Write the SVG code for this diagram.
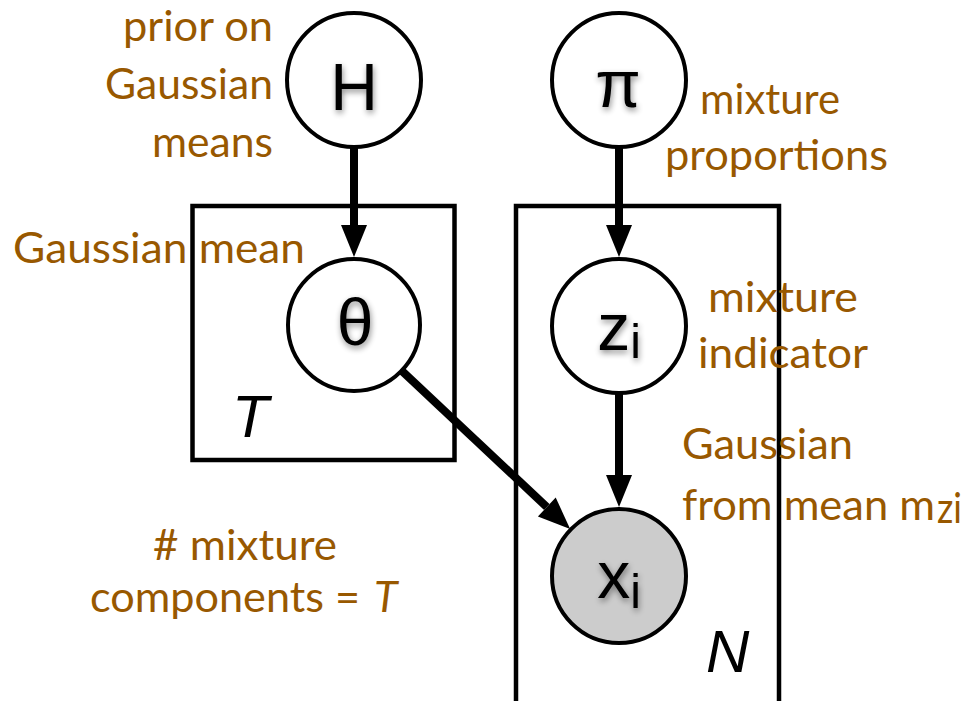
<svg xmlns="http://www.w3.org/2000/svg" width="973" height="701" viewBox="0 0 973 701">
<style>
.node{fill:#ffffff;stroke:#000000;stroke-width:4}
.obs{fill:#cccccc}
.plate{fill:none;stroke:#000000;stroke-width:4.5}
.edge{stroke:#000000;stroke-width:8;fill:none}
.lbl{font-family:"Liberation Sans",Arial,sans-serif;fill:#000000;text-anchor:middle}
.ann{font-family:Lato,"Open Sans",sans-serif;font-size:43px;fill:#985800}
.pl{font-family:"Liberation Sans",Arial,sans-serif;font-style:italic;font-size:60px;fill:#000000}
</style>
<defs>
<marker id="arr" markerUnits="userSpaceOnUse" markerWidth="40" markerHeight="40" refX="0" refY="0" viewBox="0 -20 40 40" orient="auto" overflow="visible">
<path d="M0,-13 L32,0 L0,13 z" fill="#000000"/>
</marker>
<filter id="sh" x="-50%" y="-50%" width="200%" height="200%">
<feGaussianBlur in="SourceAlpha" stdDeviation="3"/>
<feOffset dx="1" dy="3" result="b"/>
<feComponentTransfer><feFuncA type="linear" slope="0.45"/></feComponentTransfer>
<feMerge><feMergeNode/><feMergeNode in="SourceGraphic"/></feMerge>
</filter>
</defs>
<g id="plates">
<rect id="plate-T" class="plate" x="192.5" y="206" width="262" height="254"/>
<rect id="plate-N" class="plate" x="516" y="206" width="263" height="520"/>
<text class="pl" x="232" y="437">T</text>
<text class="pl" x="706" y="672">N</text>
</g>
<g id="connectors">
<line class="edge" x1="354" y1="146" x2="354" y2="225" marker-end="url(#arr)"/>
<line class="edge" x1="619" y1="146" x2="619" y2="225" marker-end="url(#arr)"/>
<line class="edge" x1="619" y1="393" x2="619" y2="475" marker-end="url(#arr)"/>
<line class="edge" x1="402" y1="371" x2="546.8" y2="507" marker-end="url(#arr)"/>
</g>
<g id="node-H">
<circle class="node" cx="354" cy="80" r="67"/>
<text class="lbl" x="354" y="110" font-size="66" filter="url(#sh)">H</text>
</g>
<g id="node-pi">
<circle class="node" cx="619" cy="80" r="67"/>
<text class="lbl" x="618" y="107" font-size="66" filter="url(#sh)">π</text>
</g>
<g id="node-theta">
<circle class="node" cx="354" cy="325" r="66"/>
<text class="lbl" x="355" y="345" font-size="66" filter="url(#sh)">θ</text>
</g>
<g id="node-z">
<circle class="node" cx="619" cy="326" r="67"/>
<text class="lbl" x="619" y="350" font-size="66" filter="url(#sh)">z<tspan font-size="48" dy="8">i</tspan></text>
</g>
<g id="node-x">
<circle class="node obs" cx="619" cy="576" r="67"/>
<text class="lbl" x="619" y="598" font-size="66" filter="url(#sh)">x<tspan font-size="48" dy="10">i</tspan></text>
</g>
<g id="annotations">
<text class="ann" x="123" y="41" textLength="150" lengthAdjust="spacingAndGlyphs">prior on</text>
<text class="ann" x="105" y="99" textLength="168" lengthAdjust="spacingAndGlyphs">Gaussian</text>
<text class="ann" x="152" y="157" textLength="121" lengthAdjust="spacingAndGlyphs">means</text>
<text class="ann" x="13" y="263" textLength="292" lengthAdjust="spacingAndGlyphs">Gaussian mean</text>
<text class="ann" x="700" y="114" textLength="140" lengthAdjust="spacingAndGlyphs">mixture</text>
<text class="ann" x="665" y="170" textLength="223" lengthAdjust="spacingAndGlyphs">proportions</text>
<text class="ann" x="708" y="312" textLength="150" lengthAdjust="spacingAndGlyphs">mixture</text>
<text class="ann" x="698" y="368" textLength="170" lengthAdjust="spacingAndGlyphs">indicator</text>
<text class="ann" x="682" y="459" textLength="171" lengthAdjust="spacingAndGlyphs">Gaussian</text>
<text class="ann" x="682" y="520" textLength="253" lengthAdjust="spacingAndGlyphs">from mean m</text>
<text class="ann" x="937" y="523" font-size="30" textLength="25" lengthAdjust="spacingAndGlyphs">zi</text>
<text class="ann" x="153" y="560" textLength="184" lengthAdjust="spacingAndGlyphs"># mixture</text>
<text class="ann" x="90" y="612" textLength="270" lengthAdjust="spacingAndGlyphs">components =</text>
<text class="ann" x="374" y="612" font-style="italic">T</text>
</g>
</svg>
